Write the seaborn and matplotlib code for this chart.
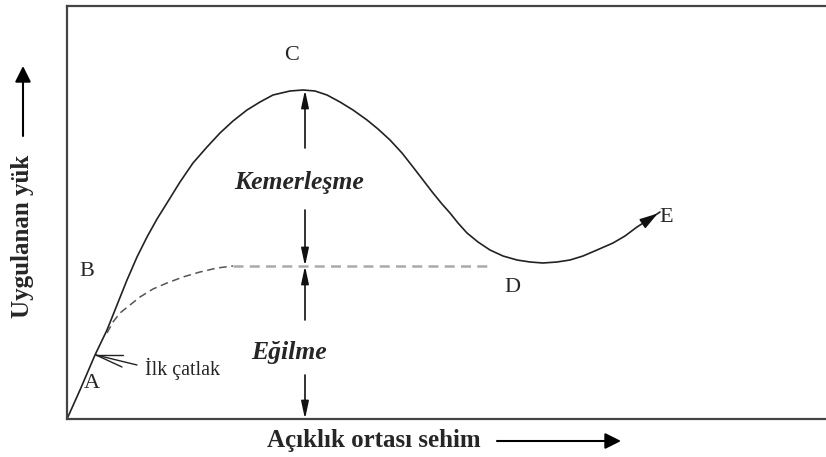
import matplotlib
matplotlib.use("Agg")
import matplotlib.pyplot as plt
import matplotlib.patches as mpatches
import seaborn as sns
import pandas as pd

sns.set_style("white")
plt.rcParams['font.family'] = ['Liberation Serif', 'DejaVu Serif']

# Load–deflection curve (x: mid-span deflection, y: applied load)
load_x = [0, 13, 28, 40, 50, 60, 70, 80, 90, 100, 113, 126, 140, 153, 166, 180, 193, 206,
          223, 236, 248, 260, 273, 286, 300, 311, 323, 335, 346, 356, 366, 375, 383, 391,
          400, 411, 423, 436, 450, 463, 476, 490, 503, 516, 530, 546, 558, 570, 581, 593]
load_y = [0, 29, 64, 89, 114, 139, 162, 182, 200, 216, 237, 256, 272, 286, 298, 309, 317,
          324, 328, 329, 328, 324, 317, 309, 299, 290, 279, 266, 252, 239, 226, 215, 206,
          196, 186, 177, 169, 163, 159, 157, 156, 157, 159, 163, 169, 176, 183, 192, 199, 207]
# Flexure-only curve (dashed)
flex_x = [40, 46, 53, 63, 73, 86, 100, 116, 133, 150, 166]
flex_y = [86, 97, 106, 114, 122, 130, 136, 142, 147, 151, 153]
flex_flat_x = [166, 423]
flex_flat_y = [153, 153]
peak_y = 329
flex_level = 153

fig = plt.figure(figsize=(8.26, 4.57), dpi=100)
ax = fig.add_axes([67/826, 38/457, 759/826, 413/457])

df_main = pd.DataFrame({"x": load_x, "y": load_y})
sns.lineplot(data=df_main, x="x", y="y", sort=False, ax=ax, color="#222222", lw=1.2)
df_f = pd.DataFrame({"x": flex_x, "y": flex_y})
sns.lineplot(data=df_f, x="x", y="y", sort=False, ax=ax, color="#555555", lw=1.1,
             linestyle=(0, (5, 3)))
df_ff = pd.DataFrame({"x": flex_flat_x, "y": flex_flat_y})
sns.lineplot(data=df_ff, x="x", y="y", sort=False, ax=ax, color="#aaaaaa", lw=1.8,
             linestyle=(0, (4, 2.5)))

# arrowhead at E
ax.annotate("", xy=(load_x[-1], load_y[-1]), xytext=(load_x[-2], load_y[-2]),
            arrowprops=dict(arrowstyle="-|>,head_length=0.6,head_width=0.18",
                            color="#111111", lw=1.2, mutation_scale=18))

ax.set_xlim(0, 759)
ax.set_ylim(0, 413)
ax.set_xticks([])
ax.set_yticks([])
ax.set_xlabel("")
ax.set_ylabel("")
for s in ["left", "bottom", "top"]:
    ax.spines[s].set_color("#444444")
    ax.spines[s].set_linewidth(1.6)
ax.spines["right"].set_visible(False)

ap = dict(arrowstyle="-|>,head_length=0.7,head_width=0.15", color="#111111", lw=1.2,
          mutation_scale=15, shrinkA=0, shrinkB=0)
xa = 238
ax.annotate("", xy=(xa, peak_y), xytext=(xa, 271), arrowprops=ap)
ax.annotate("", xy=(xa, flex_level), xytext=(xa, 209), arrowprops=ap)
ax.annotate("", xy=(xa, flex_level), xytext=(xa, 99), arrowprops=ap)
ax.annotate("", xy=(xa, 0), xytext=(xa, 44), arrowprops=ap)

ax.text(232, 236, "Kemerleşme", ha="center", va="center", fontsize=18.5,
        fontweight="bold", style="italic")
ax.text(222, 67, "Eğilme", ha="center", va="center", fontsize=18.5,
        fontweight="bold", style="italic")

# İlk çatlak pointer
for tx, ty in [(56, 64), (70, 54), (55, 52)]:
    ax.plot([29, tx], [64, ty], color="#222222", lw=1.0)
ax.text(78, 50, "İlk çatlak", ha="left", va="center", fontsize=14.5)

fs = 16
ax.text(25, 36, "A", ha="center", va="center", fontsize=fs)
ax.text(20, 147, "B", ha="center", va="center", fontsize=fs)
ax.text(225, 364, "C", ha="center", va="center", fontsize=fs)
ax.text(445, 132, "D", ha="center", va="center", fontsize=fs)
ax.text(592, 201, "E", ha="left", va="center", fontsize=fs)

# axis labels with arrows
fig.text(23/826, 1 - 236/457, "Uygulanan yük", rotation=90, ha="center", va="center",
         fontsize=18, fontweight="bold")
fig.add_artist(mpatches.FancyArrowPatch((23/826, 1 - 136/457), (23/826, 1 - 66/457),
               transform=fig.transFigure, arrowstyle="-|>", mutation_scale=24,
               color="black", lw=1.5, shrinkA=0, shrinkB=0))
fig.text(374/826, 1 - 440/457, "Açıklık ortası sehim", ha="center", va="center",
         fontsize=18, fontweight="bold")
fig.add_artist(mpatches.FancyArrowPatch((497/826, 1 - 441/457), (621/826, 1 - 441/457),
               transform=fig.transFigure, arrowstyle="-|>", mutation_scale=24,
               color="black", lw=1.5, shrinkA=0, shrinkB=0))

fig.savefig("out.png", dpi=100)
